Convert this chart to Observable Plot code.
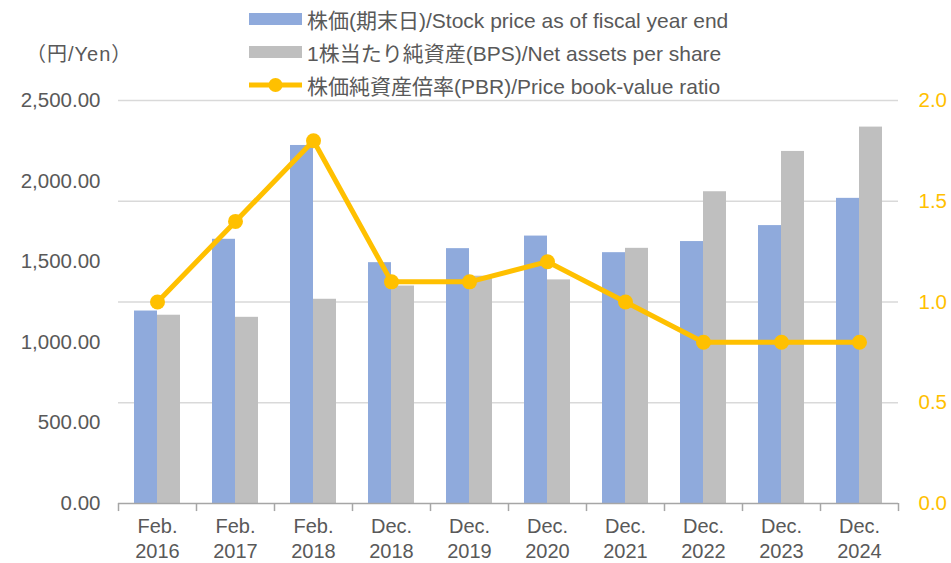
<!DOCTYPE html>
<html>
<head>
<meta charset="utf-8">
<script src="https://cdn.jsdelivr.net/npm/d3@7"></script>
<script src="https://cdn.jsdelivr.net/npm/@observablehq/plot@0.6"></script>
<style>
  body { margin: 0; background: #fff; }
  #wrap { position: relative; width: 951px; height: 563px; font-family: "Liberation Sans", Arial, "Noto Sans CJK JP", sans-serif; color: #595959; }
  #header { position: absolute; left: 0; top: 0; height: 96px; width: 951px; z-index: 1; }
  .lg { position: absolute; left: 249px; display: flex; align-items: center; font-size: 21px; white-space: nowrap; }
  .lg .sw { width: 53px; height: 12px; margin-right: 5px; }
  .lg svg { margin-right: 5px; }
  #yen { position: absolute; left: 26px; top: 38px; font-size: 20px; letter-spacing: 1px; }
  #yen .fw { font-family: "Noto Sans CJK JP", sans-serif; }
</style>
</head>
<body>
<div id="wrap">
  <div id="chart"></div>
  <div id="header"></div>
</div>
<script>
const categories = ["Feb.\n2016", "Feb.\n2017", "Feb.\n2018", "Dec.\n2018", "Dec.\n2019", "Dec.\n2020", "Dec.\n2021", "Dec.\n2022", "Dec.\n2023", "Dec.\n2024"];
const stockPrice = [1194, 1639, 2221, 1494, 1581, 1659, 1556, 1625, 1724, 1893];
const bps = [1168, 1155, 1267, 1349, 1410, 1387, 1583, 1934, 2184, 2335];
const pbr = [1.0, 1.4, 1.8, 1.1, 1.1, 1.2, 1.0, 0.8, 0.8, 0.8];
const leftTicks = [0, 500, 1000, 1500, 2000, 2500];
const rightTicks = [0, 0.5, 1.0, 1.5, 2.0];
const seriesNames = ["株価(期末日)/Stock price as of fiscal year end", "1株当たり純資産(BPS)/Net assets per share", "株価純資産倍率(PBR)/Price book-value ratio"];
const yenLabel = "（円/Yen）";

const yMax = 2500, rMax = 2.0;
const k = yMax / rMax;
const BLUE = "#8FAADC", GRAY = "#BFBFBF", GOLD = "#FFC000", TXT = "#595959";

const data = categories.map((c, i) => ({cat: c, stock: stockPrice[i], bps: bps[i], pbr: pbr[i]}));

// header: legend + unit label
const header = document.getElementById("header");
const rows = [19, 52, 85];
seriesNames.forEach((name, i) => {
  const d = document.createElement("div");
  d.className = "lg";
  d.style.top = (rows[i] - 12) + "px";
  d.style.height = "24px";
  let sw;
  if (i < 2) {
    sw = `<div class="sw" style="background:${i === 0 ? BLUE : GRAY}"></div>`;
  } else {
    sw = `<svg width="53" height="20"><line x1="0" x2="53" y1="10" y2="10" stroke="${GOLD}" stroke-width="5"/><circle cx="26.5" cy="10" r="7" fill="${GOLD}"/></svg>`;
  }
  d.innerHTML = sw + `<span>${name}</span>`;
  header.appendChild(d);
});
const y = document.createElement("div");
y.id = "yen";
y.innerHTML = `<span class="fw">（円</span>/Yen<span class="fw">）</span>`;
y.setAttribute("aria-label", yenLabel);
header.appendChild(y);

const chart = Plot.plot({
  width: 951,
  height: 563,
  marginTop: 100,
  marginBottom: 60,
  marginLeft: 118,
  marginRight: 53,
  style: {fontFamily: '"Liberation Sans", Arial, "Noto Sans CJK JP", sans-serif', fontSize: "20px", color: TXT, background: "#fff"},
  x: {type: "band", domain: categories, padding: 0},
  y: {domain: [0, yMax]},
  marks: [
    Plot.ruleY(rightTicks.slice(1).map(r => r * k), {stroke: "#D9D9D9", strokeWidth: 1.5}),
    Plot.barY(data, {x: "cat", y: "stock", fill: BLUE, insetLeft: 16, insetRight: 39}),
    Plot.barY(data, {x: "cat", y: "bps", fill: GRAY, insetLeft: 39, insetRight: 16}),
    Plot.ruleY([0], {stroke: "#A6A6A6", strokeWidth: 1.5}),
    Plot.ruleX(categories, {x: d => d, y1: 0, y2: -50, dx: -39, stroke: "#A6A6A6", strokeWidth: 1.5}),
    Plot.ruleX(categories.slice(-1), {x: d => d, y1: 0, y2: -50, dx: 39, stroke: "#A6A6A6", strokeWidth: 1.5}),
    Plot.lineY(data, {x: "cat", y: d => d.pbr * k, stroke: GOLD, strokeWidth: 5}),
    Plot.dot(data, {x: "cat", y: d => d.pbr * k, r: 7.5, fill: GOLD}),
    Plot.axisY(leftTicks, {anchor: "left", tickSize: 0, tickPadding: 18, tickFormat: d3.format(",.2f"), fill: TXT, fontSize: 20.5, label: null}),
    Plot.axisY(rightTicks.map(r => r * k), {anchor: "right", tickSize: 0, tickPadding: 20, tickFormat: d => (d / k).toFixed(1), fill: GOLD, fontSize: 20.5, label: null}),
    Plot.axisX({tickSize: 0, tickPadding: 12, fill: TXT, fontSize: 20, lineHeight: 1.25, label: null})
  ]
});
document.getElementById("chart").appendChild(chart);
</script>
</body>
</html>
